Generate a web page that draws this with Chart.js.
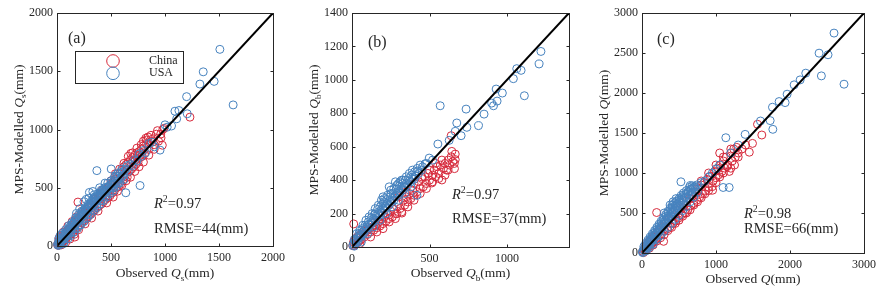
<!DOCTYPE html>
<html><head><meta charset="utf-8">
<script src="https://cdn.jsdelivr.net/npm/chart.js@4/dist/chart.umd.min.js"></script>
<style>
html,body{margin:0;padding:0;background:#fff;}
#wrap{position:relative;width:886px;height:295px;overflow:hidden;background:#fff;}
canvas{position:absolute;top:0;}
</style></head><body>
<div id="wrap">
<canvas id="ca" width="295" height="295" style="left:0px"></canvas>
<canvas id="cb" width="295" height="295" style="left:295px"></canvas>
<canvas id="cc" width="300" height="295" style="left:586px"></canvas>
</div>
<script>
// ---------------- DATA ----------------
const seriesNames = ['China', 'USA'];

const ticksAx = [0, 500, 1000, 1500, 2000];
const ticksAy = [0, 500, 1000, 1500, 2000];
const ticksBx = [0, 500, 1000];
const ticksBy = [0, 200, 400, 600, 800, 1000, 1200, 1400];
const ticksCx = [0, 1000, 2000, 3000];
const ticksCy = [0, 500, 1000, 1500, 2000, 2500, 3000];
const maxA = 2000, maxB = 1400, maxC = 3000;

// (a) Qs  [observed, modelled]
const chinaA = [[5,10],[10,25],[15,5],[20,40],[25,15],[30,50],[35,20],[40,60],[45,30],[50,75],[55,40],[60,90],[65,50],[70,100],[75,60],[80,110],[85,70],[90,125],[95,80],[100,135],[105,85],[110,145],[115,95],[120,150],[130,105],[140,175],[150,120],[160,190],[165,77],[170,145],[180,215],[190,160],[194,377],[200,230],[210,180],[220,255],[230,200],[240,275],[250,215],[260,295],[270,235],[280,315],[290,255],[300,335],[310,270],[320,350],[330,290],[340,375],[350,310],[360,390],[370,330],[380,410],[390,345],[400,430],[410,360],[420,450],[430,380],[440,470],[450,400],[460,490],[470,415],[480,510],[490,430],[500,530],[510,455],[520,545],[530,470],[540,575],[550,500],[560,600],[570,510],[580,620],[590,530],[600,650],[610,560],[620,680],[630,600],[640,700],[650,590],[660,720],[670,640],[680,740],[683,794],[690,660],[700,760],[710,680],[720,780],[723,738],[730,700],[740,800],[750,720],[760,810],[770,760],[780,830],[790,770],[800,860],[810,790],[822,925],[830,880],[843,935],[850,830],[870,900],[890,920],[900,870],[920,960],[940,900],[963,928],[975,865],[990,1010],[1231,1106],
  [20,70],[40,10],[60,120],[80,30],[100,170],[120,60],[140,210],[160,100],[180,250],[200,140],[230,290],[260,190],[290,340],[320,240],[350,400],[380,300],[420,480],[460,370],[500,560],[520,420],[540,620],[560,470],[580,660],[600,520],[620,710],[640,560],[660,770],[680,590],[700,800],[720,640],[740,840],[760,680],[780,870],[800,720],[830,910],[850,780],[870,950],[900,830],[930,990],[960,960],[980,1000],[800,900],[700,730],[650,650]];
const usaA = [[5,15],[10,5],[15,30],[20,20],[25,45],[30,25],[35,55],[40,40],[45,65],[50,50],[55,80],[60,60],[70,95],[75,70],[80,110],[90,100],[95,130],[100,115],[110,150],[115,120],[120,165],[130,140],[135,180],[140,155],[150,195],[155,165],[160,210],[170,180],[175,225],[180,195],[190,240],[200,215],[205,255],[210,225],[220,270],[230,245],[235,290],[240,260],[250,305],[260,275],[265,320],[270,290],[280,335],[290,305],[295,350],[300,320],[310,365],[320,340],[325,380],[330,350],[340,395],[350,370],[355,410],[360,380],[370,425],[380,400],[385,440],[390,410],[400,455],[410,430],[415,470],[420,440],[430,480],[440,460],[450,495],[460,470],[470,510],[480,490],[490,520],[500,500],[502,661],[510,530],[520,520],[530,560],[540,540],[550,580],[560,560],[575,600],[590,580],[600,630],[620,610],[637,457],[640,660],[660,640],[680,700],[700,690],[720,740],[740,730],[760,790],[769,519],[780,770],[369,647],[332,468],[800,820],[820,800],[850,880],[880,890],[902,851],[954,823],[1000,1040],[1020,1020],[1060,1030],[1092,1157],[1108,1092],[1129,1163],[1206,1135],[1200,1282],[1323,1390],[1354,1495],[1455,1413],[1508,1688],[1631,1211],
  [30,90],[50,110],[60,20],[80,140],[100,60],[110,175],[130,90],[140,200],[160,120],[170,240],[190,150],[200,270],[220,180],[230,300],[250,210],[260,330],[280,240],[290,360],[310,270],[320,390],[340,300],[350,420],[370,330],[380,450],[400,360],[410,480],[430,390],[440,500],[460,420],[470,540],[490,450],[500,560],[520,470],[530,590],[550,510],[560,620],[580,540],[600,660],[620,570],[650,690],[270,400],[300,460],[250,380],[210,320],[180,280],
  [15,60],[25,10],[45,95],[65,35],[85,125],[105,90],[125,110],[145,185],[165,150],[185,215],[205,180],[225,260],[245,230],[265,300],[285,270],[305,340],[325,310],[345,380],[365,350],[385,420],[405,390],[425,460],[445,430],[465,500],[485,470],[505,545],[525,500],[545,600],[565,540],[585,630],[605,600],[625,650],[345,440],[395,500],[445,540],[295,410]];

// (b) Qb
const chinaB = [[5,8],[10,30],[11,138],[15,10],[20,45],[25,20],[30,55],[35,25],[40,65],[45,35],[50,70],[60,45],[70,80],[80,60],[90,95],[100,75],[110,110],[120,90],[130,120],[140,100],[150,130],[160,115],[170,150],[180,125],[190,165],[200,140],[210,180],[220,155],[230,200],[240,170],[250,215],[260,180],[270,225],[280,200],[290,199],[300,260],[310,230],[322,203],[330,280],[340,250],[350,300],[360,270],[370,320],[380,290],[390,340],[400,310],[420,330],[430,390],[440,350],[450,410],[460,360],[470,420],[480,380],[490,440],[500,400],[515,383],[520,430],[530,460],[540,420],[550,480],[560,440],[570,490],[580,401],[590,470],[600,500],[610,460],[620,520],[630,490],[640,540],[640,666],[644,572],[650,510],[661,469],[666,523],[666,556],
  [50,20],[80,100],[120,60],[160,90],[200,110],[240,150],[280,170],[320,210],[360,240],[400,280],[440,320],[480,350],[520,390],[560,410],[600,430],[620,460],[660,500],[300,300],[350,330],[400,380],[450,420],[500,460],[540,500],[580,520],[200,190],[150,150],[100,100]];
const usaB = [[5,10],[10,20],[15,5],[20,35],[25,25],[30,45],[35,30],[40,60],[50,55],[55,75],[60,65],[70,90],[75,80],[80,105],[90,100],[95,120],[100,115],[110,135],[120,130],[125,150],[130,145],[140,170],[150,160],[150,200],[155,185],[160,175],[170,200],[180,190],[185,215],[190,205],[200,230],[200,260],[210,220],[215,245],[220,235],[230,260],[240,250],[245,275],[250,265],[250,320],[260,290],[270,280],[275,305],[280,300],[290,320],[300,310],[300,380],[305,335],[310,325],[320,350],[320,400],[330,340],[335,365],[340,355],[350,380],[360,370],[370,395],[380,390],[390,410],[400,405],[410,425],[419,309],[430,440],[450,460],[472,498],[498,532],[520,520],[554,616],[569,845],[627,638],[666,692],[676,742],[704,666],[736,825],[741,716],[816,726],[852,795],[901,861],[913,845],[930,945],[936,873],[970,921],[1041,1007],[1063,1067],[1091,1057],[1112,905],[1207,1095],[1219,1170],
  [30,80],[50,100],[70,130],[90,160],[110,180],[130,200],[150,230],[170,250],[190,280],[210,290],[230,310],[250,340],[270,350],[290,370],[310,390],[330,400],[350,420],[370,440],[390,460],[420,470],[440,490],[60,30],[100,80],[140,120],[180,160],[220,200],[260,240],[300,280],[340,320],[380,360],
  [15,45],[45,80],[65,110],[85,130],[105,150],[125,175],[145,195],[165,225],[185,245],[205,270],[225,285],[245,300],[265,320],[285,345],[305,365],[325,380],[345,400],[365,410],[385,430],[405,450],[425,455],[455,480],[480,500],[240,360],[280,390],[200,300]];

// (c) Q
const chinaC = [[10,20],[20,5],[30,50],[40,30],[50,90],[60,50],[70,110],[80,70],[90,140],[100,90],[110,150],[120,110],[130,170],[140,120],[150,200],[160,140],[170,220],[180,160],[198,506],[200,250],[220,200],[240,290],[260,230],[280,330],[292,146],[300,280],[320,370],[340,300],[360,410],[380,330],[400,450],[420,370],[440,480],[460,400],[480,530],[500,440],[520,560],[540,480],[560,600],[580,500],[600,650],[620,540],[640,680],[660,590],[680,730],[700,620],[720,760],[740,660],[760,800],[780,700],[800,850],[820,740],[840,880],[860,780],[880,920],[900,820],[920,960],[954,785],[960,900],[980,1020],[1000,940],[1020,1060],[1040,980],[1060,1100],[1080,1020],[1100,1150],[1120,1060],[1140,1200],[1160,1100],[1180,1020],[1200,1250],[1220,1150],[1240,1300],[1260,1200],[1280,1320],[1300,1250],[1350,1300],[1400,1350],[1450,1260],[1493,1370],[1561,1609],[1619,1475],
  [50,30],[100,60],[150,100],[200,150],[250,190],[300,230],[350,280],[400,320],[450,370],[500,410],[550,460],[600,500],[650,540],[700,600],[750,640],[800,690],[850,740],[900,780],[950,830],[1000,880],[1050,950],[1100,1000],[1150,1080],[1200,1060],[1250,1100],[1300,1200],[1000,1100],[1100,1200],[1200,1300],[900,1000],[800,900],[1050,1250]];
const usaC = [[5,15],[10,5],[20,40],[30,25],[40,65],[50,45],[60,90],[70,70],[80,110],[90,95],[100,135],[110,115],[120,160],[130,140],[140,185],[150,165],[160,210],[170,190],[180,235],[190,215],[200,260],[210,240],[220,285],[230,265],[240,310],[250,290],[260,335],[270,315],[280,360],[290,340],[300,385],[310,365],[320,410],[330,390],[340,435],[350,415],[360,460],[370,440],[380,485],[390,465],[400,510],[410,490],[420,535],[430,515],[440,560],[450,540],[460,585],[470,565],[480,610],[490,590],[500,635],[520,620],[526,890],[540,670],[560,650],[580,700],[600,690],[620,740],[640,720],[652,844],[660,780],[680,760],[700,820],[720,800],[740,850],[760,830],[800,880],[850,900],[900,950],[950,1000],[1000,1050],[1050,1100],[1097,819],[1133,1441],[1178,819],[1200,1250],[1300,1350],[1394,1483],[1601,1650],[1732,1655],[1763,1822],[1768,1546],[1853,1893],[1934,1880],[1961,1985],[2056,2102],[2137,2164],[2213,2248],[2393,2498],[2424,2214],[2514,2478],[2595,2749],[2730,2110],
  [50,120],[80,160],[110,200],[140,240],[170,280],[200,320],[230,360],[260,400],[290,440],[320,480],[350,520],[380,560],[410,600],[440,620],[470,650],[500,680],[530,720],[560,750],[600,780],[640,820],[680,840],[60,30],[100,70],[150,110],[200,170],[250,220],[300,270],[350,320],[400,370],[450,420],[500,470],[550,530],[600,580],[650,640],[700,700],[750,760],
  [25,80],[55,100],[85,140],[115,180],[145,220],[175,260],[205,300],[235,340],[265,380],[295,420],[325,460],[355,500],[385,540],[415,570],[445,590],[475,620],[505,660],[535,690],[565,720],[595,740],[625,770],[655,800],[685,810],[715,830],[380,600],[420,640],[460,680],[300,500]];

// ---------------- STYLE / DRAW ----------------
const FONT = "'Liberation Serif','Times New Roman',serif";
Chart.defaults.font.family = FONT;
Chart.defaults.color = '#262626';
const RED = '#d62a3c', BLUE = '#4682be', INK = '#262626';

function segFont(s, size) {
  const sz = (s.sub || s.sup) ? size * 0.68 : size;
  return (s.it ? 'italic ' : '') + sz + 'px ' + FONT;
}
function richWidth(ctx, segs, size) {
  let w = 0;
  segs.forEach(s => { ctx.font = segFont(s, size); w += ctx.measureText(s.t).width; });
  return w;
}
function drawRich(ctx, segs, x, cy, size, align) {
  const w = richWidth(ctx, segs, size);
  let cx = align === 'center' ? x - w / 2 : x;
  const base = cy + size * 0.34;
  ctx.textBaseline = 'alphabetic';
  ctx.textAlign = 'left';
  segs.forEach(s => {
    ctx.font = segFont(s, size);
    let dy = 0;
    if (s.sub) dy = size * 0.28;
    if (s.sup) dy = -size * 0.38;
    ctx.fillText(s.t, cx, base + dy);
    cx += ctx.measureText(s.t).width;
  });
}

const deco = {
  id: 'deco',
  afterDatasetsDraw(chart, args, o) {
    const {ctx, chartArea: a, scales: {x, y}} = chart;
    ctx.save();
    ctx.strokeStyle = INK; ctx.lineWidth = 1;
    const L = Math.round(a.left) + 0.5, R = Math.round(a.right) + 0.5;
    const T = Math.round(a.top) + 0.5, B = Math.round(a.bottom) + 0.5;
    ctx.strokeRect(L, T, R - L, B - T);
    ctx.beginPath();
    x.ticks.forEach(t => {
      const px = Math.round(x.getPixelForValue(t.value)) + 0.5;
      ctx.moveTo(px, B); ctx.lineTo(px, B - 3);
      ctx.moveTo(px, T); ctx.lineTo(px, T + 3);
    });
    y.ticks.forEach(t => {
      const py = Math.round(y.getPixelForValue(t.value)) + 0.5;
      ctx.moveTo(L, py); ctx.lineTo(L + 3, py);
      ctx.moveTo(R, py); ctx.lineTo(R - 3, py);
    });
    ctx.stroke();
    ctx.restore();
  },
  afterDraw(chart, args, o) {
    const {ctx, chartArea: a} = chart;
    ctx.save();
    ctx.fillStyle = INK;
    drawRich(ctx, o.xTitle, (a.left + a.right) / 2, o.xTitleY, 13.5, 'center');
    ctx.save();
    ctx.translate(o.yTitleX, (a.top + a.bottom) / 2);
    ctx.rotate(-Math.PI / 2);
    drawRich(ctx, o.yTitle, 0, 0, 13.5, 'center');
    ctx.restore();
    drawRich(ctx, [{t: o.label}], o.labelX, o.labelY, 16, 'left');
    drawRich(ctx, [{t: 'R', it: true}, {t: '2', sup: true}, {t: '=' + o.r2}], o.statX, o.r2Y, 14.5, 'left');
    drawRich(ctx, [{t: 'RMSE=' + o.rmse + '(mm)'}], o.statX, o.rmseY, 14.5, 'left');
    if (o.legend) {
      const g = o.legend;
      ctx.strokeStyle = INK; ctx.lineWidth = 1;
      ctx.strokeRect(g.x + 0.5, g.y + 0.5, g.w, g.h);
      const cols = [RED, BLUE];
      seriesNames.forEach((n, i) => {
        const cy = g.y + 10 + i * 12.3;
        ctx.beginPath();
        ctx.strokeStyle = cols[i];
        ctx.arc(g.x + 38, cy, 6.3, 0, Math.PI * 2);
        ctx.stroke();
        ctx.fillStyle = INK;
        ctx.font = '12px ' + FONT;
        ctx.textBaseline = 'middle';
        ctx.textAlign = 'left';
        ctx.fillText(n, g.x + 74, cy);
      });
    }
    ctx.restore();
  }
};

function makePanel(id, china, usa, max, xt, yt, area, canvasW, deco_o) {
  const YW = 40, XH = 30;
  const toPts = arr => arr.map(p => ({x: p[0], y: p[1]}));
  new Chart(document.getElementById(id), {
    type: 'scatter',
    data: {
      datasets: [
        {label: 'line', data: [{x: 0, y: 0}, {x: max, y: max}], showLine: true, borderColor: '#000', borderWidth: 2, pointRadius: 0, fill: false},
        {label: seriesNames[1], data: toPts(usa), pointStyle: 'circle', pointRadius: 4, borderWidth: 1, borderColor: BLUE, backgroundColor: 'rgba(0,0,0,0)', clip: false},
        {label: seriesNames[0], data: toPts(china), pointStyle: 'circle', pointRadius: 4, borderWidth: 1, borderColor: RED, backgroundColor: 'rgba(0,0,0,0)', clip: false}
      ]
    },
    options: {
      responsive: false, animation: false, devicePixelRatio: 1,
      layout: {padding: {left: area.left - YW, right: canvasW - area.right, top: area.top, bottom: 295 - area.bottom - XH}},
      plugins: {legend: {display: false}, tooltip: {enabled: false}, deco: deco_o},
      events: [],
      scales: {
        x: {type: 'linear', min: 0, max: max,
            grid: {display: false, drawTicks: false}, border: {display: false},
            ticks: {padding: 5, font: {size: 12}, color: INK, maxRotation: 0, callback: v => String(v)},
            afterBuildTicks: s => { s.ticks = xt.map(v => ({value: v})); },
            afterFit: s => { s.height = XH; }},
        y: {type: 'linear', min: 0, max: max,
            grid: {display: false, drawTicks: false}, border: {display: false},
            ticks: {padding: 4, font: {size: 12}, color: INK, callback: v => String(v)},
            afterBuildTicks: s => { s.ticks = yt.map(v => ({value: v})); },
            afterFit: s => { s.width = YW; }}
      }
    },
    plugins: [deco]
  });
}

makePanel('ca', chinaA, usaA, maxA, ticksAx, ticksAy, {left: 57, top: 13, right: 273, bottom: 246}, 295, {
  xTitle: [{t: 'Observed '}, {t: 'Q', it: true}, {t: 's', sub: true}, {t: '(mm)'}], xTitleY: 272.5,
  yTitle: [{t: 'MPS-Modelled '}, {t: 'Q', it: true}, {t: 's', sub: true}, {t: '(mm)'}], yTitleX: 18,
  label: '(a)', labelX: 68, labelY: 38, r2: '0.97', rmse: '44', statX: 154, r2Y: 203, rmseY: 228,
  legend: {x: 75, y: 51, w: 108, h: 32}
});
makePanel('cb', chinaB, usaB, maxB, ticksBx, ticksBy, {left: 57, top: 13, right: 274, bottom: 247}, 295, {
  xTitle: [{t: 'Observed '}, {t: 'Q', it: true}, {t: 'b', sub: true}, {t: '(mm)'}], xTitleY: 272.5,
  yTitle: [{t: 'MPS-Modelled '}, {t: 'Q', it: true}, {t: 'b', sub: true}, {t: '(mm)'}], yTitleX: 18,
  label: '(b)', labelX: 73, labelY: 42, r2: '0.97', rmse: '37', statX: 157, r2Y: 194, rmseY: 218
});
makePanel('cc', chinaC, usaC, maxC, ticksCx, ticksCy, {left: 56, top: 13, right: 278, bottom: 253}, 300, {
  xTitle: [{t: 'Observed '}, {t: 'Q', it: true}, {t: '(mm)'}], xTitleY: 278,
  yTitle: [{t: 'MPS-Modelled '}, {t: 'Q', it: true}, {t: '(mm)'}], yTitleX: 17,
  label: '(c)', labelX: 71, labelY: 39, r2: '0.98', rmse: '66', statX: 158, r2Y: 213, rmseY: 228
});
</script>
</body></html>
